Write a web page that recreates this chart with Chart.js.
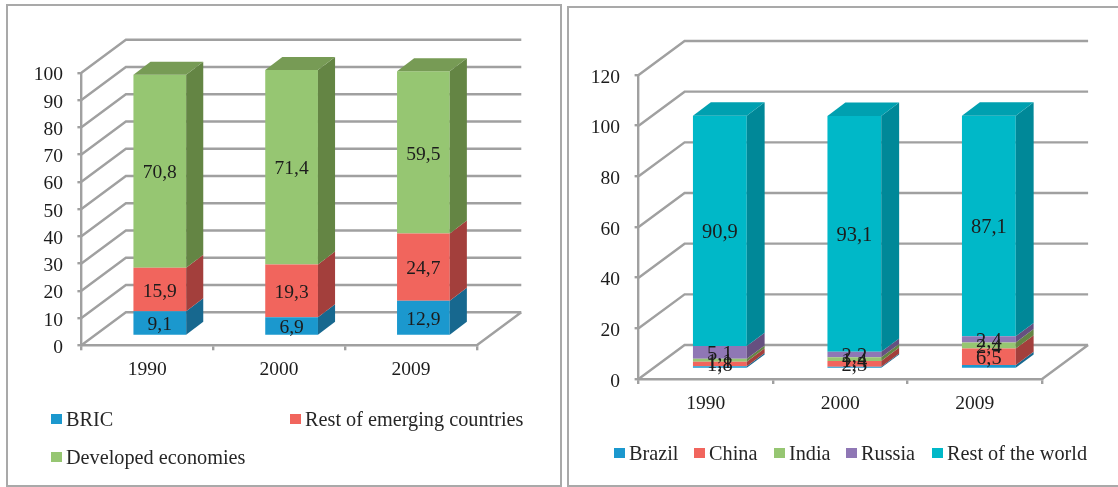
<!DOCTYPE html>
<html lang="en">
<head>
    <meta charset="UTF-8">
    <title>Export shares 1990-2009</title>
    <script src="https://cdn.jsdelivr.net/npm/chart.js"></script>
    <style>
        html, body { margin: 0; padding: 0; background: #fff; overflow: hidden; }
        body { width: 1118px; height: 487px; position: relative; font-family: "Liberation Serif", serif; color: #262626; }
        .panel { position: absolute; border: 2px solid #a9a9a9; box-sizing: border-box; }
        canvas { position: absolute; top: 0; }
        .key { position: absolute; font-size: 20.25px; line-height: 20px; white-space: nowrap; }
        .key i { position: absolute; left: 0; top: 5px; width: 11px; height: 10px; }
        .key span { position: absolute; left: 15px; top: 0; }
    </style>
</head>
<body>
    <div class="panel" style="left:6px;top:4px;width:556px;height:483px"></div>
    <div class="panel" style="left:567px;top:6px;width:560px;height:481px"></div>
    <canvas id="chartLeft" width="562" height="487" style="left:0"></canvas>
    <canvas id="chartRight" width="556" height="487" style="left:562px"></canvas>
    <div id="legends"></div>

    <script>
        const years = ["1990", "2000", "2009"];

        // left chart, share by group
        const bric = [9.1, 6.9, 12.9];
        const restEmerging = [15.9, 19.3, 24.7];
        const developed = [70.8, 71.4, 59.5];

        // right chart, share by country
        const brazil = [1.1, 0.9, 1.6];
        const china = [1.8, 2.3, 6.5];
        const india = [1.1, 1.4, 2.4];
        const russia = [5.1, 2.2, 2.4];
        const restWorld = [90.9, 93.1, 87.1];

        const BLUE = { front: "#1b98ce", side: "#17688f", top: "#1a7fab" };
        const RED = { front: "#f1655d", side: "#a33f3c", top: "#c4504b" };
        const GREEN = { front: "#96c672", side: "#648544", top: "#779b55" };
        const PURPLE = { front: "#8f77b5", side: "#665080", top: "#75609a" };
        const TEAL = { front: "#00b8c8", side: "#008898", top: "#00a0b0" };

        const GRID = "#a0a0a0";
        const SERIF = "Liberation Serif";

        const fmt = v => v.toFixed(1).replace(".", ",");

        // back wall + side wall + floor, and the fake 3D faces of the bars
        const depthPlugin = {
            id: "depth",
            beforeDatasetsDraw(chart, args, opts) {
                const { ctx, chartArea: a, scales: { y } } = chart;
                ctx.save();
                ctx.strokeStyle = GRID;
                ctx.lineWidth = 2.4;
                ctx.beginPath();
                y.ticks.forEach(t => {
                    const py = y.getPixelForValue(t.value);
                    ctx.moveTo(a.left, py);
                    ctx.lineTo(a.left + opts.wallX, py - opts.wallY);
                    ctx.lineTo(a.right + opts.wallX, py - opts.wallY);
                });
                ctx.moveTo(a.right, a.bottom);
                ctx.lineTo(a.right + opts.wallX, a.bottom - opts.wallY);
                ctx.stroke();
                ctx.restore();
                // bars sit a bit behind the front of the floor
                ctx.save();
                ctx.translate(opts.barX, opts.barY);
            },
            afterDatasetsDraw(chart, args, opts) {
                const { ctx } = chart;
                const last = chart.data.datasets.length - 1;
                chart.data.datasets.forEach((ds, i) => {
                    chart.getDatasetMeta(i).data.forEach(bar => {
                        const right = bar.x + bar.width / 2;
                        const left = bar.x - bar.width / 2;
                        ctx.fillStyle = ds.faces.side;
                        ctx.beginPath();
                        ctx.moveTo(right, bar.y);
                        ctx.lineTo(right, bar.base);
                        ctx.lineTo(right + opts.faceX, bar.base - opts.faceY);
                        ctx.lineTo(right + opts.faceX, bar.y - opts.faceY);
                        ctx.closePath();
                        ctx.fill();
                        if (i === last) {
                            ctx.fillStyle = ds.faces.top;
                            ctx.beginPath();
                            ctx.moveTo(left, bar.y);
                            ctx.lineTo(right, bar.y);
                            ctx.lineTo(right + opts.faceX, bar.y - opts.faceY);
                            ctx.lineTo(left + opts.faceX, bar.y - opts.faceY);
                            ctx.closePath();
                            ctx.fill();
                        }
                    });
                });
                // value labels
                ctx.font = opts.labelSize + 'px "' + SERIF + '", serif';
                ctx.fillStyle = "#1c1c1c";
                ctx.textAlign = "center";
                ctx.textBaseline = "middle";
                chart.data.datasets.forEach((ds, i) => {
                    if (ds.noLabels) return;
                    chart.getDatasetMeta(i).data.forEach((bar, j) => {
                        ctx.fillText(fmt(ds.data[j]), bar.x, (bar.y + bar.base) / 2 + 2);
                    });
                });
                ctx.restore();
            }
        };

        function makeChart(id, series, maxValue, step, box, depth) {
            return new Chart(document.getElementById(id), {
                type: "bar",
                plugins: [depthPlugin],
                data: {
                    labels: years,
                    datasets: series.map(s => ({
                        label: s.label,
                        data: s.data,
                        backgroundColor: s.faces.front,
                        faces: s.faces,
                        noLabels: s.noLabels,
                        clip: false,
                        barPercentage: 0.8,
                        categoryPercentage: 0.5
                    }))
                },
                options: {
                    responsive: false,
                    animation: false,
                    layout: { padding: { top: box.top, right: box.right, left: 0, bottom: 0 } },
                    plugins: { legend: { display: false }, tooltip: { enabled: false }, depth: depth },
                    scales: {
                        x: {
                            stacked: true,
                            afterFit: s => { s.height = box.xHeight; },
                            grid: { offset: true, drawOnChartArea: false, color: GRID, lineWidth: 2.4, tickLength: 5 },
                            border: { color: GRID, width: 2.4 },
                            ticks: { color: "#1c1c1c", font: { family: SERIF, size: 19.5 }, padding: 8, maxRotation: 0 }
                        },
                        y: {
                            stacked: true,
                            min: 0,
                            max: maxValue,
                            afterFit: s => { s.width = box.left; },
                            grid: { drawOnChartArea: false, color: GRID, lineWidth: 2.4, tickLength: 4 },
                            border: { color: GRID, width: 2.4 },
                            ticks: { stepSize: step, color: "#1c1c1c", font: { family: SERIF, size: 19.5 }, padding: 14.5, labelOffset: 2.5 }
                        }
                    }
                }
            });
        }

        const leftSeries = [
            { label: "BRIC", data: bric, faces: BLUE },
            { label: "Rest of emerging countries", data: restEmerging, faces: RED },
            { label: "Developed economies", data: developed, faces: GREEN }
        ];
        const rightSeries = [
            { label: "Brazil", data: brazil, faces: BLUE, noLabels: true },
            { label: "China", data: china, faces: RED },
            { label: "India", data: india, faces: GREEN },
            { label: "Russia", data: russia, faces: PURPLE },
            { label: "Rest of the world", data: restWorld, faces: TEAL }
        ];

        makeChart("chartLeft", leftSeries, 100, 10,
            { top: 72.7, right: 85.2, left: 81.4, xHeight: 141.7 },
            { wallX: 44.5, wallY: 33, barX: 12.5, barY: -9.3, faceX: 17.1, faceY: 13, labelSize: 19.5 });
        makeChart("chartRight", rightSeries, 120, 20,
            { top: 75, right: 75.9, left: 76.6, xHeight: 108 },
            { wallX: 46, wallY: 34, barX: 14, barY: -10, faceX: 17.9, faceY: 13.3, labelSize: 20.5 });

        // legends, laid out by hand because the rows do not follow the text widths
        function addLegend(series, spots) {
            const host = document.getElementById("legends");
            series.forEach((s, i) => {
                const el = document.createElement("div");
                el.className = "key";
                el.style.left = spots[i][0] + "px";
                el.style.top = spots[i][1] + "px";
                const mark = document.createElement("i");
                mark.style.background = s.faces.front;
                const text = document.createElement("span");
                text.textContent = s.label;
                el.append(mark, text);
                host.append(el);
            });
        }
        addLegend(leftSeries, [[51, 409], [290, 409], [51, 447]]);
        addLegend(rightSeries, [[614, 443], [694, 443], [774, 443], [846, 443], [932, 443]]);
    </script>
</body>
</html>
